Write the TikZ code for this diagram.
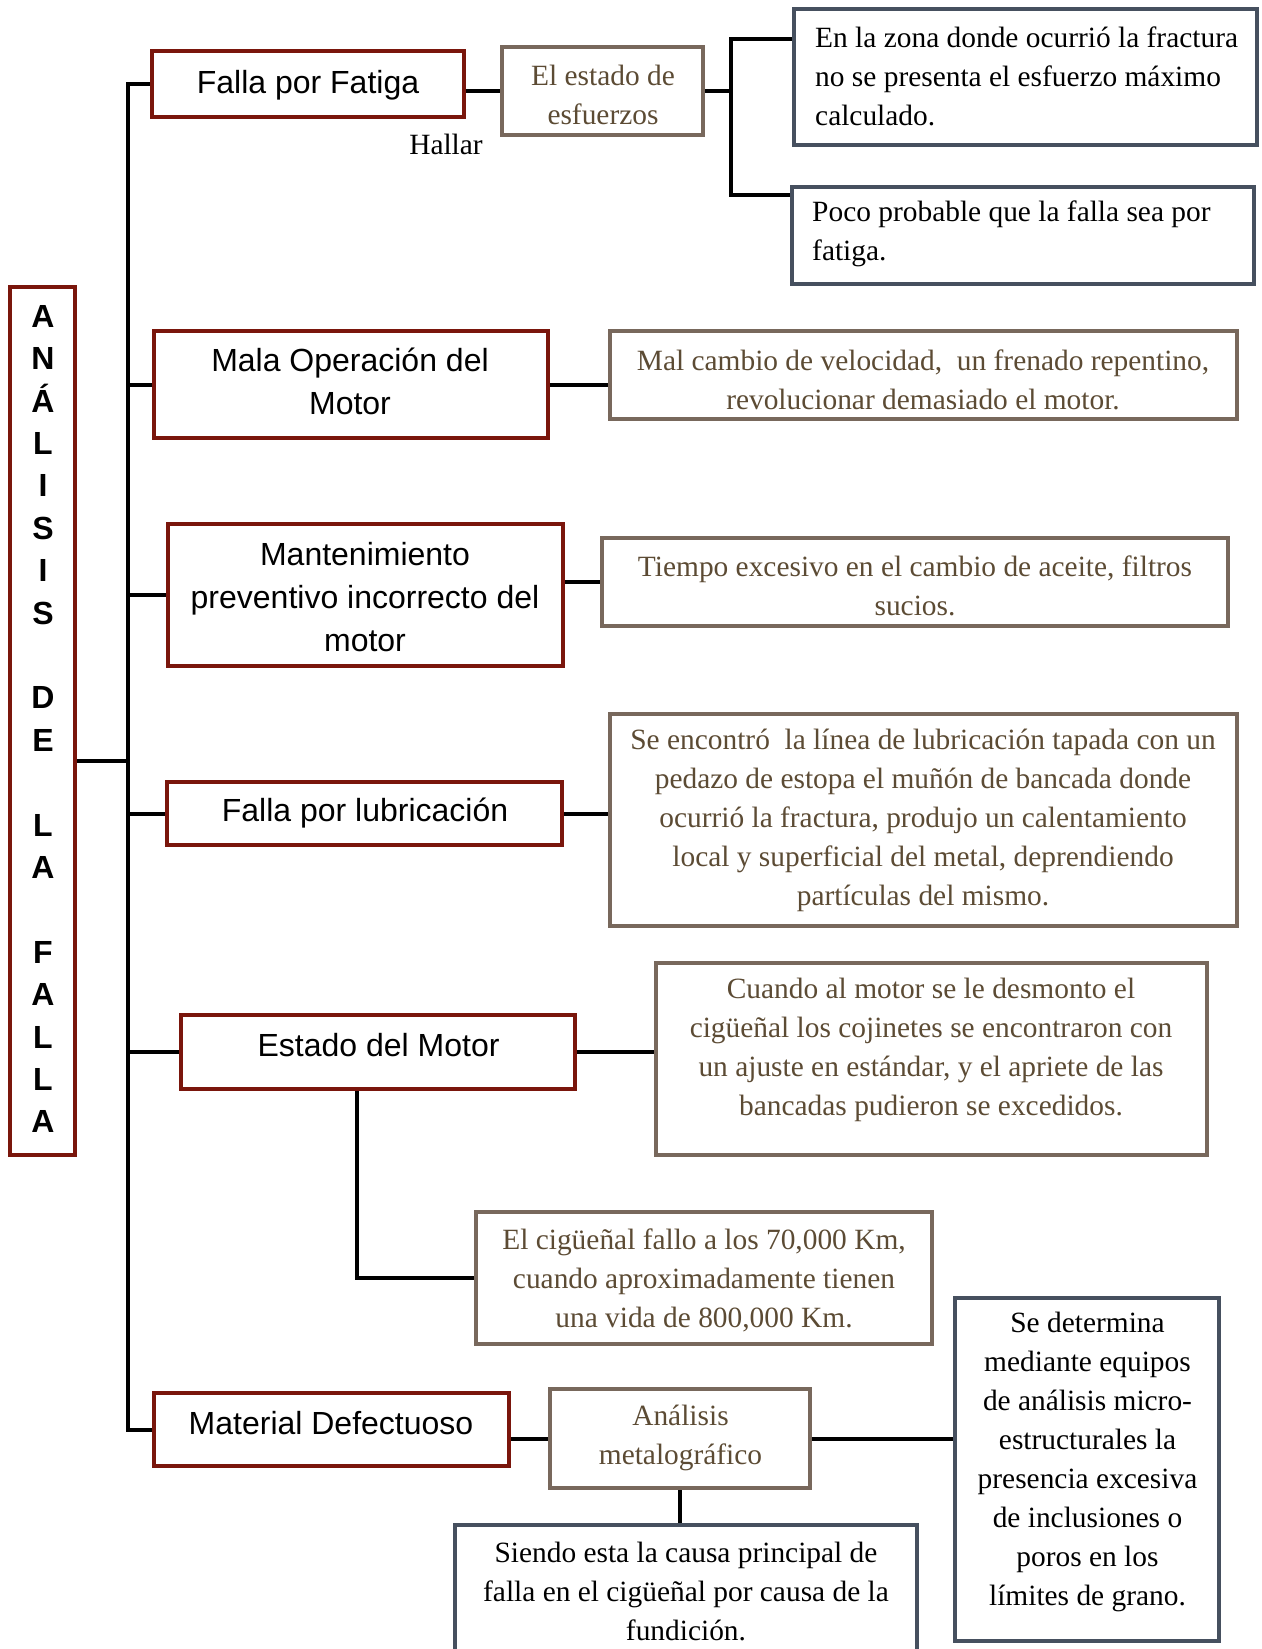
\documentclass[tikz,border=0pt]{standalone}
\usepackage{fontspec}
\setmainfont{Liberation Serif}[Ligatures=CommonOff]
\newfontfamily\sansfam{Liberation Sans}
\usetikzlibrary{backgrounds,calc}
\definecolor{boxred}{RGB}{122,22,12}
\definecolor{boxbrown}{RGB}{120,104,92}
\definecolor{boxslate}{RGB}{70,80,95}
\definecolor{txtbrown}{RGB}{92,75,52}
\tikzset{
  box/.style={rectangle, inner sep=0pt, outer sep=0pt, line width=3.5pt, fill=white},
  redbox/.style={box, draw=boxred},
  brownbox/.style={box, draw=boxbrown},
  slatebox/.style={box, draw=boxslate},
  conn/.style={line width=4pt, draw=black},
  sanstxt/.style={font=\sansfam\fontsize{32}{42.6}\selectfont, align=center, inner sep=0pt},
  serftxt/.style={font=\fontsize{29.4}{39}\selectfont, align=center, inner sep=0pt},
  browntxt/.style={serftxt, text=txtbrown},
}
\begin{document}
\begin{tikzpicture}[x=1pt,y=-1pt]
\useasboundingbox (0,0) rectangle (1261,1649);

% ---- boxes ----
\node[redbox, minimum width=65pt, minimum height=868pt] (ana) at (42.5,721) {};
\node[redbox, minimum width=312pt, minimum height=66pt] (fatiga) at (308,84) {};
\node[brownbox, minimum width=201pt, minimum height=88pt] (esf) at (602.5,91) {};
\node[slatebox, minimum width=463pt, minimum height=136pt] (zona) at (1025.5,77) {};
\node[slatebox, minimum width=462pt, minimum height=97pt] (poco) at (1023,235.5) {};
\node[redbox, minimum width=394pt, minimum height=107pt] (mala) at (351,384.5) {};
\node[brownbox, minimum width=627pt, minimum height=88pt] (malc) at (923.5,375) {};
\node[redbox, minimum width=395pt, minimum height=142pt] (mant) at (365.5,595) {};
\node[brownbox, minimum width=626pt, minimum height=88pt] (tiempo) at (915,582) {};
\node[redbox, minimum width=395pt, minimum height=63pt] (lub) at (364.5,813.5) {};
\node[brownbox, minimum width=627pt, minimum height=212pt] (encontro) at (923.5,820) {};
\node[redbox, minimum width=394pt, minimum height=74pt] (estado) at (378,1052) {};
\node[brownbox, minimum width=551pt, minimum height=192pt] (cuando) at (931.5,1059) {};
\node[brownbox, minimum width=456pt, minimum height=132pt] (cig) at (704,1278) {};
\node[redbox, minimum width=355pt, minimum height=73pt] (material) at (331.5,1429.5) {};
\node[brownbox, minimum width=260pt, minimum height=99pt] (metal) at (680,1438.5) {};
\node[slatebox, minimum width=264pt, minimum height=343pt] (determina) at (1087,1469.5) {};
\node[slatebox, minimum width=462pt, minimum height=134pt] (siendo) at (686,1592) {};

% ---- texts ----
\node[font=\sansfam\bfseries\fontsize{32}{42.4}\selectfont, align=center, inner sep=0pt] (anat) at (43,719)
  {A\\N\\Á\\L\\I\\S\\I\\S\\\mbox{}\\D\\E\\\mbox{}\\L\\A\\\mbox{}\\F\\A\\L\\L\\A};
\node[sanstxt] (fatigat) at (308,85) {Falla por Fatiga};
\node[serftxt] (hallar) at (446,144) {Hallar};
\node[browntxt] (esft) at (603,95) {El estado de\\esfuerzos};
\node[serftxt, align=left, anchor=west] (zonat) at (815,76)
  {En la zona donde ocurrió la fractura\\no se presenta el esfuerzo máximo\\calculado.};
\node[serftxt, align=left, anchor=west] (pocot) at (812,233.5)
  {Poco probable que la falla sea por\\fatiga.};
\node[sanstxt] (malat) at (350,381.5) {Mala Operación del\\Motor};
\node[browntxt] (malct) at (923,379.5)
  {Mal cambio de velocidad,\ \ un frenado repentino,\\revolucionar demasiado el motor.};
\node[sanstxt] (mantt) at (365,597) {Mantenimiento\\preventivo incorrecto del\\motor};
\node[browntxt] (tiempot) at (915,585.5) {Tiempo excesivo en el cambio de aceite, filtros\\sucios.};
\node[sanstxt] (lubt) at (365,813) {Falla por lubricación};
\node[browntxt] (encontrot) at (923,820)
  {Se encontró\ \ la línea de lubricación tapada con un\\pedazo de estopa el muñón de bancada donde\\ocurrió la fractura, produjo un calentamiento\\local y superficial del metal, deprendiendo\\partículas del mismo.};
\node[sanstxt] (estadot) at (378.6,1045) {Estado del Motor};
\node[browntxt] (cuandot) at (931,1050)
  {Cuando al motor se le desmonto el\\cigüeñal los cojinetes se encontraron con\\un ajuste en estándar, y el apriete de las\\bancadas pudieron se excedidos.};
\node[browntxt] (cigt) at (704,1280)
  {El cigüeñal fallo a los 70,000 Km,\\cuando aproximadamente tienen\\una vida de 800,000 Km.};
\node[sanstxt] (materialt) at (331,1423) {Material Defectuoso};
\node[browntxt] (metalt) at (680.5,1437.5) {Análisis\\metalográfico};
\node[serftxt] (determinat) at (1087.5,1462)
  {Se determina\\mediante equipos\\de análisis micro-\\estructurales la\\presencia excesiva\\de inclusiones o\\poros en los\\límites de grano.};
\node[serftxt] (siendot) at (686,1591.5)
  {Siendo esta la causa principal de\\falla en el cigüeñal por causa de la\\fundición.};

% ---- connectors ----
\begin{scope}[on background layer]
  \coordinate (tk) at (128,0);
  \coordinate (lj) at (128,761);
  \draw[conn] (fatiga.west) -| (tk |- material.west) -- (material.west);
  \draw[conn] (ana.east |- lj) -- (lj);
  \draw[conn] (tk |- mala.west) -- (mala.west);
  \draw[conn] (tk |- mant.west) -- (mant.west);
  \draw[conn] (tk |- lub.west) -- (lub.west);
  \draw[conn] (tk |- estado.west) -- (estado.west);

  \coordinate (fork) at (731,91);
  \coordinate (zj) at ($(zona.north west)+(0,30)$);
  \coordinate (pj) at ($(poco.north west)+(0,8)$);
  \draw[conn] (fatiga.east |- esf.west) -- (esf.west);
  \draw[conn] (esf.east) -- (fork);
  \draw[conn] (zj) -| (fork) |- (pj);

  \draw[conn] (mala.east) -- (mala.east -| malc.west);
  \draw[conn] (tiempo.west -| mant.east) -- (tiempo.west);
  \draw[conn] (lub.east) -- (lub.east -| encontro.west);
  \draw[conn] (estado.east) -- (estado.east -| cuando.west);
  \draw[conn] ($(estado.south)+(-21,0)$) |- (cig.west);
  \draw[conn] (metal.west -| material.east) -- (metal.west);
  \draw[conn] (metal.east) -- (metal.east -| determina.west);
  \draw[conn] (metal.south) -- (metal.south |- siendo.north);
\end{scope}
\end{tikzpicture}
\end{document}
